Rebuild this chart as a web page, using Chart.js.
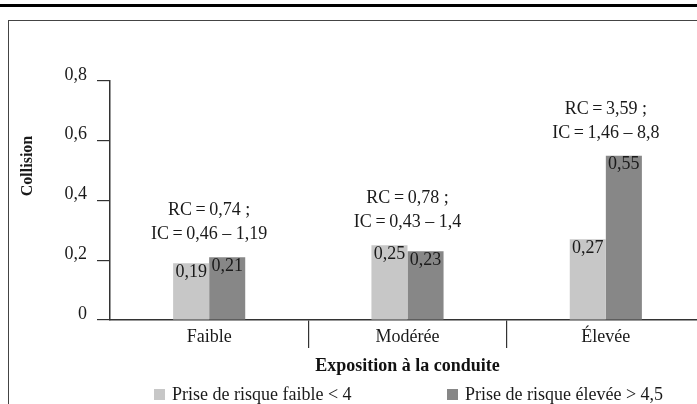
<!DOCTYPE html>
<html>
<head>
<meta charset="utf-8">
<script src="https://cdn.jsdelivr.net/npm/chart.js@4.4.1/dist/chart.umd.min.js"></script>
<style>
html, body { margin: 0; padding: 0; background: #fff; overflow: hidden; width: 697px; height: 404px; }
.rule { position: absolute; left: 0; top: 4px; width: 697px; height: 3px; background: #000; }
.frame { position: absolute; left: 8px; top: 20px; width: 760px; height: 420px; border-top: 1px solid #444; border-left: 1px solid #444; }
#wrap { position: absolute; left: 0; top: 0; width: 720px; height: 404px; }
</style>
</head>
<body>
<div class="rule"></div>
<div class="frame"></div>
<div id="wrap"><canvas id="myChart" width="720" height="404"></canvas></div>
<script>
// data
const categories = ['Faible', 'Modérée', 'Élevée'];
const lowRisk = [0.19, 0.25, 0.27];
const highRisk = [0.21, 0.23, 0.55];
const seriesNames = ['Prise de risque faible < 4', 'Prise de risque élevée > 4,5'];
const rcLines = ['RC\u2009=\u20090,74 ;', 'RC\u2009=\u20090,78 ;', 'RC\u2009=\u20093,59 ;'];
const icLines = ['IC\u2009=\u20090,46 – 1,19', 'IC\u2009=\u20090,43 – 1,4', 'IC\u2009=\u20091,46 – 8,8'];
const yTicks = ['0', '0,2', '0,4', '0,6', '0,8'];

Chart.defaults.font.family = '"Liberation Serif", "Times New Roman", serif';
Chart.defaults.color = '#1a1a1a';

const FONT = '"Liberation Serif", "Times New Roman", serif';

// value labels, RC/IC notes, y title and legend
const extras = {
  id: 'extras',
  afterDatasetsDraw(chart) {
    const ctx = chart.ctx;
    const xs = chart.scales.x, ys = chart.scales.y;
    ctx.save();
    ctx.fillStyle = '#1a1a1a';
    ctx.font = '18px ' + FONT;
    ctx.textAlign = 'center';
    ctx.textBaseline = 'top';
    chart.data.datasets.forEach((ds, i) => {
      chart.getDatasetMeta(i).data.forEach((bar, j) => {
        ctx.fillText(ds.data[j].toFixed(2).replace('.', ','), bar.x, bar.y);
      });
    });

    ctx.textBaseline = 'alphabetic';
    categories.forEach((c, j) => {
      const top = ys.getPixelForValue(Math.max(lowRisk[j], highRisk[j]));
      const cx = xs.getPixelForValue(j);
      ctx.fillText(icLines[j], cx, top - 18);
      ctx.fillText(rcLines[j], cx, top - 42);
    });

    // y title
    ctx.save();
    ctx.font = 'bold 16px ' + FONT;
    ctx.translate(28, 166);
    ctx.rotate(-Math.PI / 2);
    ctx.textBaseline = 'middle';
    ctx.fillText('Collision', 0, 0);
    ctx.restore();

    // legend
    const legendX = [154, 447];
    ctx.font = '18px ' + FONT;
    ctx.textAlign = 'left';
    chart.data.datasets.forEach((ds, i) => {
      ctx.fillStyle = ds.backgroundColor;
      ctx.fillRect(legendX[i], 389, 11, 11);
      ctx.fillStyle = '#1a1a1a';
      ctx.fillText(ds.label, legendX[i] + 18, 400);
    });
    ctx.restore();
  }
};

new Chart(document.getElementById('myChart'), {
  type: 'bar',
  data: {
    labels: categories,
    datasets: [
      { label: seriesNames[0], data: lowRisk, backgroundColor: '#c7c7c7' },
      { label: seriesNames[1], data: highRisk, backgroundColor: '#878787' }
    ]
  },
  options: {
    responsive: false,
    animation: false,
    layout: { padding: { top: 81, right: 15, left: 0, bottom: 0 } },
    datasets: { bar: { barPercentage: 1, categoryPercentage: 72 / 198 } },
    plugins: { legend: { display: false }, tooltip: { enabled: false } },
    scales: {
      x: {
        grid: {
          offset: true, drawOnChartArea: false, drawTicks: true, tickLength: 28, lineWidth: 1.2,
          color: (c) => c.index === 0 ? 'rgba(0,0,0,0)' : '#333'
        },
        border: { color: '#333', width: 1.5 },
        ticks: { padding: -22, font: { size: 18 } },
        title: {
          display: true, text: 'Exposition à la conduite', color: '#111',
          font: { size: 18, weight: 'bold' }, padding: { top: 0, bottom: 27 }
        },
        afterFit(s) { s.height = 84; }
      },
      y: {
        min: 0, max: 0.8,
        ticks: { stepSize: 0.2, padding: 10, labelOffset: -6, font: { size: 18 }, callback: (v, i) => yTicks[i] },
        grid: { drawOnChartArea: false, tickLength: 13, color: '#333', lineWidth: 1.2 },
        border: { color: '#333', width: 1.5 },
        afterFit(s) { s.width = 110; }
      }
    }
  },
  plugins: [extras]
});
</script>
</body>
</html>
